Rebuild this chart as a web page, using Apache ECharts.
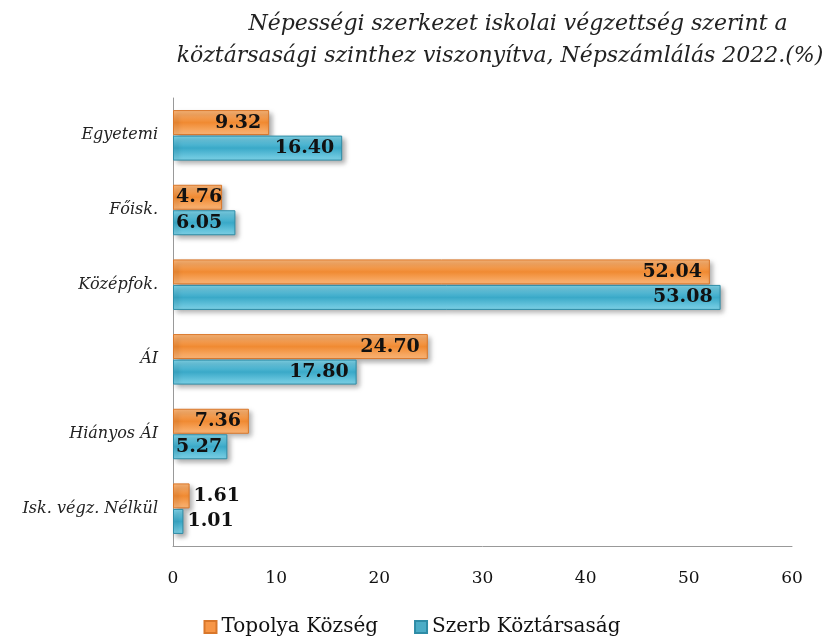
<!DOCTYPE html>
<html>
<head>
<meta charset="utf-8">
<script src="https://cdn.jsdelivr.net/npm/echarts@6/dist/echarts.min.js"></script>
<style>
  html, body { margin: 0; padding: 0; background: #fff; }
  #chart { width: 824px; height: 644px; }
</style>
</head>
<body>
<div id="chart"></div>
<script>
const categories = ['Egyetemi', 'Főisk.', 'Középfok.', 'ÁI', 'Hiányos ÁI', 'Isk. végz. Nélkül'];
const topolya = [9.32, 4.76, 52.04, 24.70, 7.36, 1.61];
const szerb = [16.40, 6.05, 53.08, 17.80, 5.27, 1.01];
const xTicks = [0, 10, 20, 30, 40, 50, 60];

const serif = '"DejaVu Serif", "Liberation Serif", serif';

// label position per bar: too short bars get the label outside / from the left
function labelFor(v) {
    if (v < 3) return { position: 'right', distance: 4 };
    if (v < 7 && v !== 7.36) return { position: 'insideLeft', distance: 3 };
    return { position: 'insideRight', distance: 8 };
}

function barData(values, light, dark) {
    return values.map(v => ({
        value: v,
        label: labelFor(v),
        itemStyle: {
            color: new echarts.graphic.LinearGradient(0, 0, 0, 1, [
                { offset: 0, color: light },
                { offset: 0.5, color: dark },
                { offset: 1, color: light }
            ])
        }
    }));
}

const titleStyle = { fontFamily: serif, fontStyle: 'italic', fontWeight: 'normal', fontSize: 22, color: '#222' };

const chart = echarts.init(document.getElementById('chart'));
chart.setOption({
    animation: false,
    title: [
        { text: 'Népességi szerkezet iskolai végzettség szerint a', left: 513, top: 8, textAlign: 'center', textStyle: titleStyle },
        { text: 'köztársasági szinthez viszonyítva, Népszámlálás 2022.(%)', left: 495, top: 40, textAlign: 'center', textStyle: titleStyle }
    ],
    legend: {
        bottom: 2,
        left: 'center',
        itemWidth: 12,
        itemHeight: 12,
        itemGap: 36,
        icon: 'rect',
        textStyle: { fontFamily: serif, fontSize: 20, color: '#111' },
        data: ['Topolya Község', 'Szerb Köztársaság']
    },
    grid: { left: 173, right: 32, top: 98, bottom: 98 },
    xAxis: {
        type: 'value',
        min: 0,
        max: 60,
        interval: 10,
        axisLine: { show: true, lineStyle: { color: '#999' } },
        axisTick: { show: false },
        splitLine: { show: false },
        axisLabel: { fontFamily: serif, fontSize: 17, color: '#111', margin: 24, formatter: v => xTicks.includes(v) ? String(v) : '' }
    },
    yAxis: {
        type: 'category',
        inverse: true,
        data: categories,
        axisLine: { show: true, lineStyle: { color: '#999' } },
        axisTick: { show: false },
        axisLabel: { fontFamily: serif, fontStyle: 'italic', fontSize: 16, color: '#222', margin: 15 }
    },
    series: [
        {
            name: 'Topolya Község',
            type: 'bar',
            barWidth: 25,
            barGap: '2%',
            color: '#f79646',
            data: barData(topolya, '#fbb77a', '#f08a32'),
            itemStyle: { borderColor: '#d9772a', borderWidth: 1, shadowColor: 'rgba(0,0,0,0.35)', shadowBlur: 5, shadowOffsetX: 3, shadowOffsetY: 3 },
            label: { show: true, formatter: p => p.value.toFixed(2), fontFamily: serif, fontWeight: 'bold', fontSize: 19, color: '#111' }
        },
        {
            name: 'Szerb Köztársaság',
            type: 'bar',
            barWidth: 25,
            barGap: '2%',
            color: '#4bacc6',
            data: barData(szerb, '#7fd3e8', '#3aa9c8'),
            itemStyle: { borderColor: '#2e8ca6', borderWidth: 1, shadowColor: 'rgba(0,0,0,0.35)', shadowBlur: 5, shadowOffsetX: 3, shadowOffsetY: 3 },
            label: { show: true, formatter: p => p.value.toFixed(2), fontFamily: serif, fontWeight: 'bold', fontSize: 19, color: '#111' }
        }
    ]
});
</script>
</body>
</html>
